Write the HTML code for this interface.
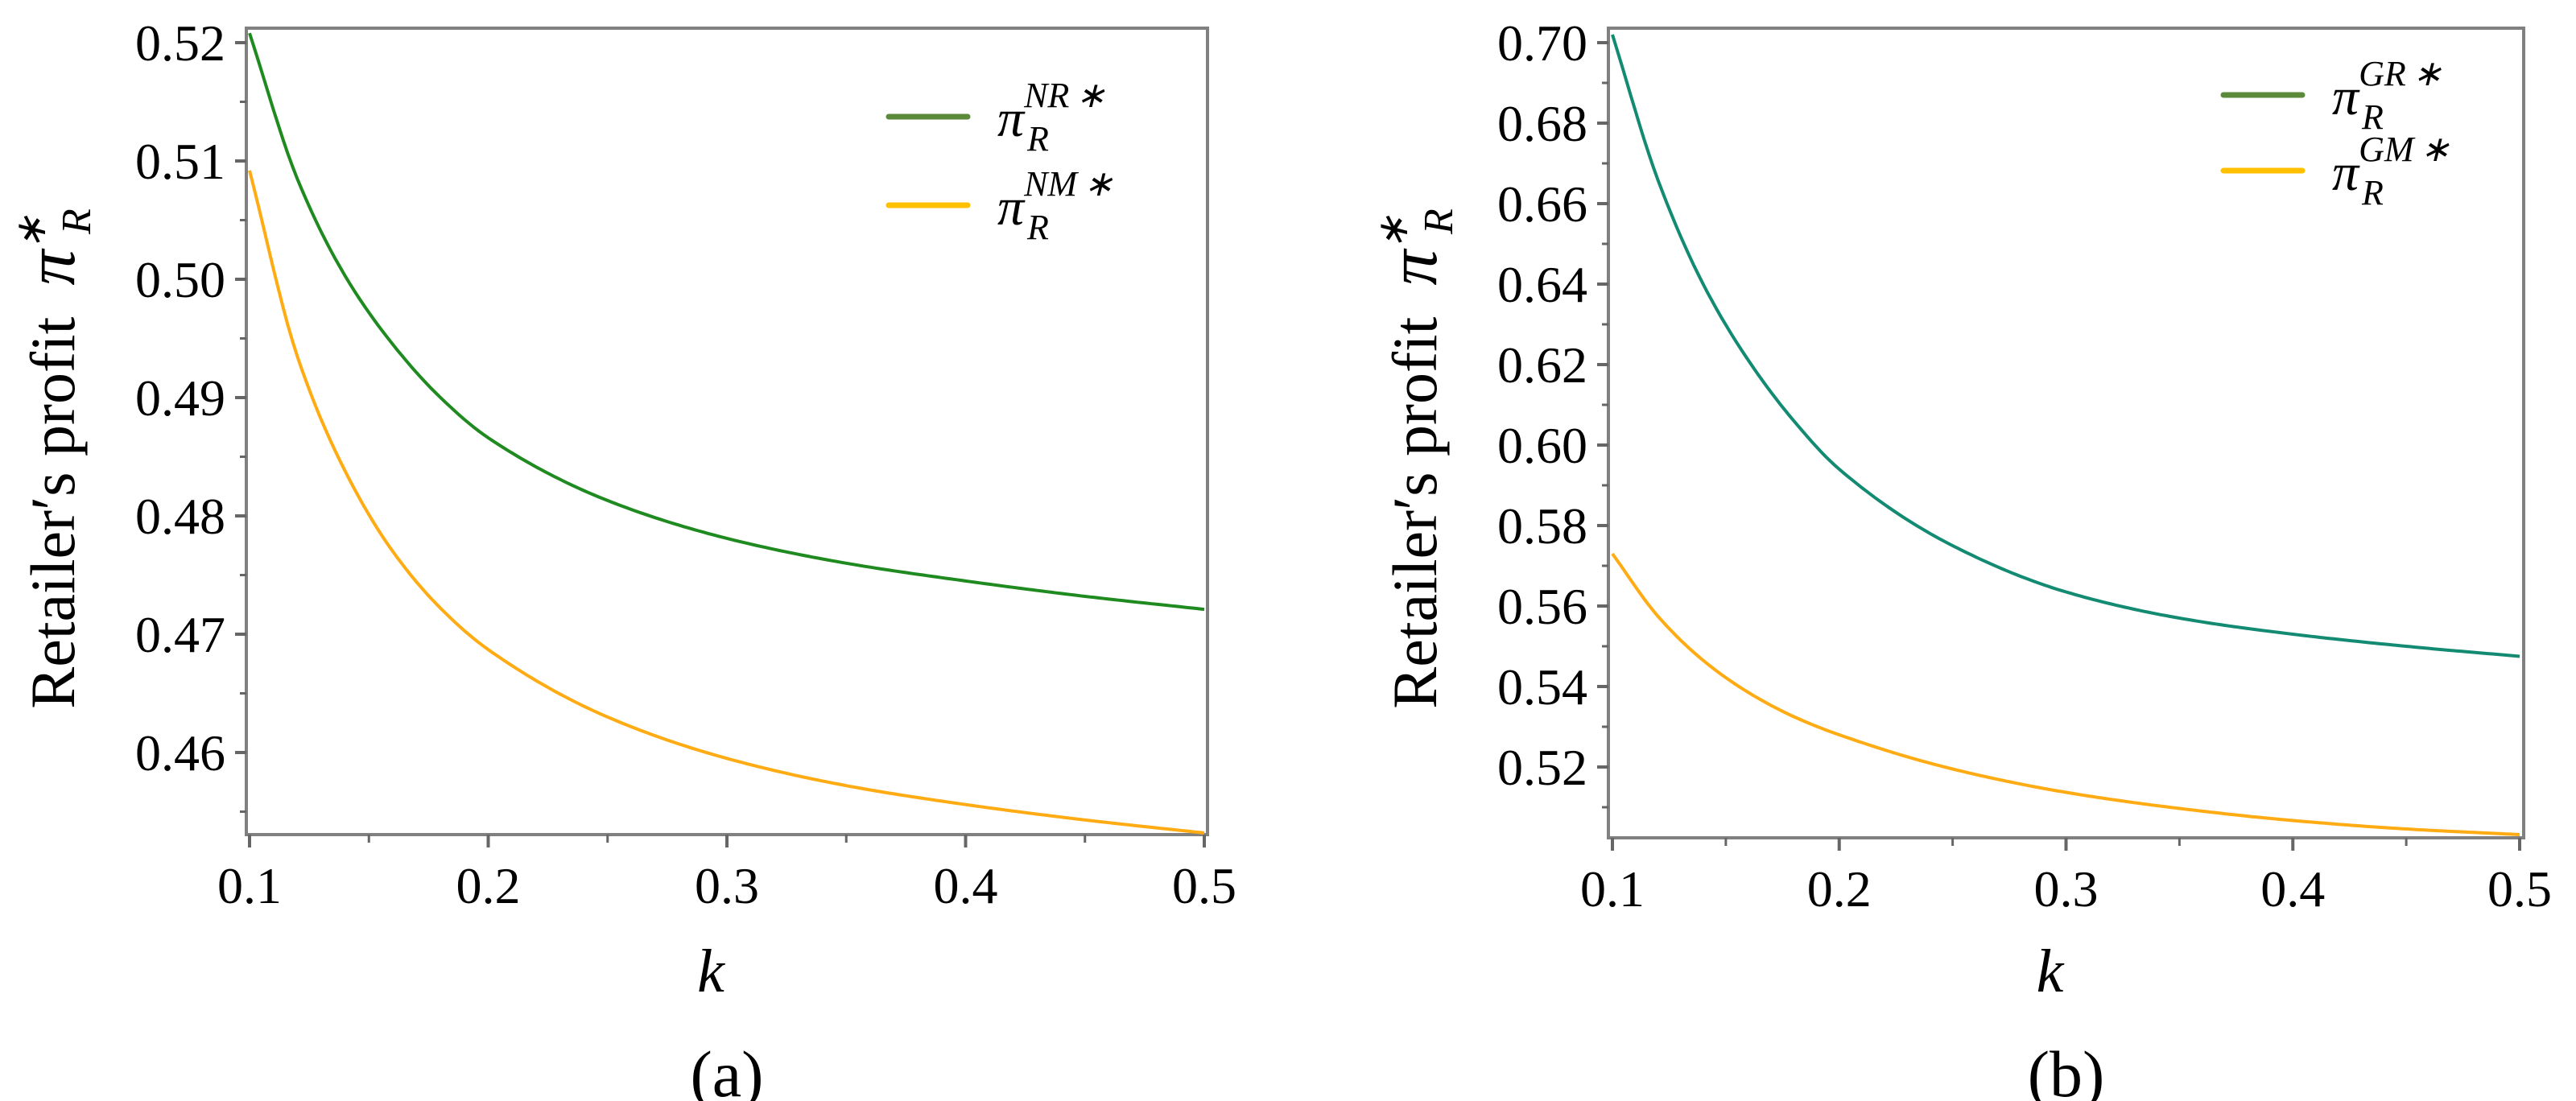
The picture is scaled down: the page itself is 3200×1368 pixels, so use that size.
<!DOCTYPE html>
<html><head><meta charset="utf-8"><style>
html,body{margin:0;padding:0;background:#fff}
svg{display:block}
text{font-family:"Liberation Serif",serif;fill:#000}
</style></head><body>
<svg id="c" width="3200" height="1368" viewBox="0 0 3200 1368" xmlns="http://www.w3.org/2000/svg"></svg>
<script>
const kValues=[0.1,0.12,0.14,0.16,0.18,0.2,0.25,0.3,0.35,0.4,0.45,0.5];
const nrValues=[0.5208,0.5085,0.5003,0.4945,0.4900,0.4866,0.4813,0.4781,0.4760,0.4745,0.4732,0.4721];
const nmValues=[0.5092,0.4935,0.4838,0.4770,0.4722,0.4687,0.4630,0.4595,0.4572,0.4556,0.4543,0.4532];
const grValues=[0.702,0.666,0.640,0.621,0.606,0.594,0.575,0.5635,0.5570,0.5530,0.5500,0.5475];
const gmValues=[0.573,0.5575,0.5465,0.5385,0.5325,0.5280,0.5195,0.5137,0.5097,0.5067,0.5046,0.5032];
const xTicksA=[0.1,0.2,0.3,0.4,0.5];
const yTicksA=[0.46,0.47,0.48,0.49,0.50,0.51,0.52];
const yTicksB=[0.52,0.54,0.56,0.58,0.60,0.62,0.64,0.66,0.68,0.70];
const NS="http://www.w3.org/2000/svg";
const svg=document.getElementById('c');
function mk(tag,attrs,parent,txt){const e=document.createElementNS(NS,tag);for(const k in attrs)e.setAttribute(k,attrs[k]);if(txt!==undefined)e.textContent=txt;(parent||svg).appendChild(e);return e;}
function monotone(xs,ys){
  const n=xs.length,d=[],m=new Array(n);
  for(let i=0;i<n-1;i++)d.push((ys[i+1]-ys[i])/(xs[i+1]-xs[i]));
  m[0]=d[0];m[n-1]=d[n-2];
  for(let i=1;i<n-1;i++){
    if(d[i-1]*d[i]<=0)m[i]=0;else{
      const h0=xs[i]-xs[i-1],h1=xs[i+1]-xs[i];
      const w1=2*h1+h0,w2=h1+2*h0;m[i]=(w1+w2)/(w1/d[i-1]+w2/d[i]);}
  }
  return x=>{let i=0;while(i<n-2&&x>xs[i+1])i++;
    const h=xs[i+1]-xs[i],t=(x-xs[i])/h,t2=t*t,t3=t2*t;
    return (2*t3-3*t2+1)*ys[i]+(t3-2*t2+t)*h*m[i]+(-2*t3+3*t2)*ys[i+1]+(t3-t2)*h*m[i+1];};
}
function panel(cfg){
  const g=mk('g',{});
  
  
  const L=cfg.L,R=cfg.R,T=cfg.T,B=cfg.B;
  const sx=v=>cfg.x0+(v-0.1)/(0.5-0.1)*(cfg.x1-cfg.x0);
  const sy=v=>cfg.yA+(cfg.vA-v)/(cfg.vA-cfg.vB)*(cfg.yB-cfg.yA);
  const frame=mk('rect',{x:L,y:T,width:R-L,height:B-T,fill:'none',stroke:'#808080','stroke-width':4},g);
  
  
  const step=cfg.yticks[1]-cfg.yticks[0];
  cfg.yticks.forEach((v,i)=>{
    const y=sy(v);
    const t=mk('line',{x1:L-14,x2:L,y1:y,y2:y,stroke:'#666','stroke-width':4},g);
    
    
    const lb=mk('text',{x:L-26,y:y+22,'text-anchor':'end','font-size':64},g,v.toFixed(2));
    
    
    const ym=sy(v+step/2);
    if(ym>T+5){const mt=mk('line',{x1:L-8,x2:L,y1:ym,y2:ym,stroke:'#666','stroke-width':3},g);
      
      }
    const ym2=sy(v-step/2);
    if(i===0&&ym2<B-5){const mt=mk('line',{x1:L-8,x2:L,y1:ym2,y2:ym2,stroke:'#666','stroke-width':3},g);
      
      }
  });
  xTicksA.forEach((v,i)=>{
    const x=sx(v);
    const t=mk('line',{x1:x,x2:x,y1:B,y2:B+16,stroke:'#666','stroke-width':4},g);
    
    
    const lb=mk('text',{x:x,y:B+85,'text-anchor':'middle','font-size':64},g,String(v));
    
    
    if(i<xTicksA.length-1){const xm=sx(v+0.05);
      const mt=mk('line',{x1:xm,x2:xm,y1:B,y2:B+10,stroke:'#666','stroke-width':3},g);
      
      }
  });
  function path(vals){
    const f=monotone(kValues,vals);
    let d='';
    for(let j=0;j<=200;j++){const k=0.1+0.4*j/200;d+=(j?'L':'M')+sx(k).toFixed(1)+','+sy(f(k)).toFixed(1);}
    return d;
  }
  const s1=mk('path',{d:path(cfg.s1),fill:'none',stroke:cfg.c1,'stroke-width':4},g);
  
  
  const s2=mk('path',{d:path(cfg.s2),fill:'none',stroke:'#ffab13','stroke-width':4},g);
  
  
  [[cfg.leg1,'#5a8a3a',cfg.sup1],[cfg.leg2,'#ffc000',cfg.sup2]].forEach(e=>{
    const lg=mk('g',{},g);
    
    
    const y=e[0];
    mk('line',{x1:cfg.lx,x2:cfg.lx+98,y1:y,y2:y,stroke:e[1],'stroke-width':7,'stroke-linecap':'round'},lg);
    const tx=mk('text',{x:cfg.lx+135,y:y+24,'font-size':66,'font-style':'italic'},lg);
    mk('tspan',{},tx,'π');
    mk('tspan',{dy:-36,'font-size':44},tx,e[2]);
    mk('tspan',{dx:8,'font-size':44},tx,'∗');
    mk('tspan',{x:cfg.lx+172,dy:54,'font-size':44},tx,'R');
  });
  const yl=mk('text',{x:0,y:0,'font-size':78,'text-anchor':'middle',transform:`translate(${cfg.ylx},${cfg.yly}) rotate(-90)`},g);
  
  
  mk('tspan',{},yl,'Retailer\u2032s profit\u00a0\u00a0');
  mk('tspan',{'font-style':'italic','font-size':88},yl,'π');
  mk('tspan',{'font-style':'italic','font-size':52,dy:-36},yl,'∗');
  mk('tspan',{'font-style':'italic','font-size':52,dx:-24,dy:56},yl,'R');
  const xl=mk('text',{x:(L+R)/2-20,y:1232,'font-size':76,'font-style':'italic','text-anchor':'middle'},g,'k');
  
  
  const cap=mk('text',{x:(L+R)/2,y:1362,'font-size':82,'text-anchor':'middle'},g,cfg.cap);
  
  
}
panel({name:'panel-a',L:306,R:1500,T:35,B:1037,x0:310,x1:1496,yA:53,vA:0.52,yB:200,vB:0.51,
  yticks:yTicksA,s1:nrValues,s2:nmValues,c1:'#1f8a1f',n1:'nr',n2:'nm',
  leg1:145,leg2:255,lx:1104,sup1:'NR',sup2:'NM',ylx:92,yly:570,cap:'(a)'});
panel({name:'panel-b',L:1998,R:3135,T:35,B:1041,x0:2003,x1:3130,yA:53,vA:0.70,yB:153,vB:0.68,
  yticks:yTicksB,s1:grValues,s2:gmValues,c1:'#138a72',n1:'gr',n2:'gm',
  leg1:118,leg2:212,lx:2762,sup1:'GR',sup2:'GM',ylx:1784,yly:570,cap:'(b)'});
</script>
</body></html>
